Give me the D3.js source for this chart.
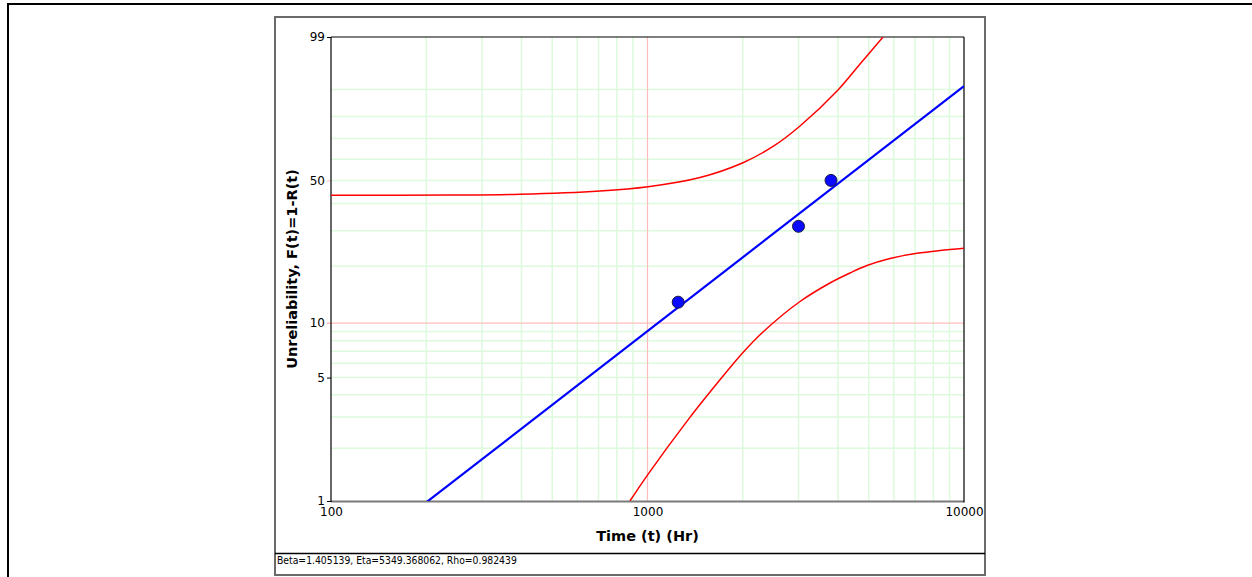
<!DOCTYPE html>
<html>
<head>
<meta charset="utf-8">
<script src="https://cdn.jsdelivr.net/npm/d3@7"></script>
<style>
  html, body { margin: 0; padding: 0; background: #fff; }
  svg { display: block; font-family: "DejaVu Sans", Verdana, sans-serif; }
</style>
</head>
<body>
<svg id="chart" width="1252" height="577"></svg>
<script>
// Weibull fit parameters
const BETA = 1.405139;
const ETA = 5349.368062;
const RHO = 0.982439;

// Failure times (Hr) and their median ranks (%)
const failTimes = [1250, 3000, 3800];
const failRanks = [12.96, 31.48, 50.0];

// Confidence bounds, time (Hr) and unreliability (%)
const upperTimes = [100, 238, 395, 708, 1004, 1465, 2003, 2492, 3033, 3999, 4693, 5548];
const upperPct   = [43.4, 43.5, 43.85, 45.27, 47.16, 51.34, 58.34, 66.2, 75.88, 89.85, 96.02, 99.0];
const lowerTimes = [880, 1001, 1352, 1576, 2003, 2317, 3033, 3772, 4363, 4938, 5838, 7103, 8400, 10000];
const lowerPct   = [1.0, 1.41, 2.94, 4.15, 6.89, 8.94, 13.07, 16.38, 18.46, 20.17, 21.9, 23.25, 24.02, 24.63];

// Axis ticks
const xTicks = [100, 1000, 10000];
const yTicks = [1, 5, 10, 50, 99];
const xGridMinor = [200, 300, 400, 500, 600, 700, 800, 900, 2000, 3000, 4000, 5000, 6000, 7000, 8000, 9000];
const xGridMajor = [1000];
const yGridMinor = [2, 3, 4, 5, 6, 7, 8, 9, 20, 30, 40, 50, 60, 70, 80, 90];
const yGridMajor = [10];

const svg = d3.select("#chart");
const plot = { left: 331, right: 964, top: 37, bottom: 501 };

// Weibull probability transform: ln(-ln(1-F))
const wb = p => Math.log(-Math.log(1 - p / 100));

const x = d3.scaleLog().domain([100, 10000]).range([plot.left, plot.right]);
const yLin = d3.scaleLinear().domain([wb(1), wb(99)]).range([plot.bottom, plot.top]);
const y = p => yLin(wb(p));

// Outer frame
svg.append("rect")
  .attr("x", 8).attr("y", 4).attr("width", 1400).attr("height", 800)
  .attr("fill", "none").attr("stroke", "#000").attr("stroke-width", 2);

// Chart panel
svg.append("rect")
  .attr("x", 275).attr("y", 17).attr("width", 710).attr("height", 558)
  .attr("fill", "#fff").attr("stroke", "#6a6a6a").attr("stroke-width", 2);
svg.append("line")
  .attr("x1", 275).attr("x2", 985).attr("y1", 553.5).attr("y2", 553.5)
  .attr("stroke", "#000").attr("stroke-width", 1.5);

svg.append("text")
  .attr("x", 277).attr("y", 564)
  .attr("font-size", 10.3).attr("fill", "#000")
  .attr("font-family", "'DejaVu Sans Condensed', 'DejaVu Sans', sans-serif")
  .text(`Beta=${BETA.toFixed(6)}, Eta=${ETA.toFixed(6)}, Rho=${RHO.toFixed(6)}`);

// Grid
const grid = svg.append("g");
grid.selectAll(".vmin").data(xGridMinor).join("line")
  .attr("x1", d => x(d)).attr("x2", d => x(d))
  .attr("y1", plot.top).attr("y2", plot.bottom)
  .attr("stroke", "#ddfadd").attr("stroke-width", 1.5);
grid.selectAll(".hmin").data(yGridMinor).join("line")
  .attr("x1", plot.left).attr("x2", plot.right)
  .attr("y1", d => y(d)).attr("y2", d => y(d))
  .attr("stroke", "#ddfadd").attr("stroke-width", 1.5);
grid.selectAll(".vmaj").data(xGridMajor).join("line")
  .attr("x1", d => x(d)).attr("x2", d => x(d))
  .attr("y1", plot.top).attr("y2", plot.bottom)
  .attr("stroke", "#ffbcbc").attr("stroke-width", 1.2);
grid.selectAll(".hmaj").data(yGridMajor).join("line")
  .attr("x1", plot.left - 4).attr("x2", plot.right)
  .attr("y1", d => y(d)).attr("y2", d => y(d))
  .attr("stroke", "#ffbcbc").attr("stroke-width", 1.2);

// Axes
const yAxis = svg.append("g")
  .attr("transform", `translate(${plot.left},0)`)
  .call(d3.axisLeft(yLin)
    .tickValues(yTicks.map(wb))
    .tickFormat((d, i) => yTicks[i])
    .tickSize(4).tickPadding(2));
yAxis.select(".domain").remove();
yAxis.selectAll(".tick line")
  .attr("stroke", (d, i) => (yTicks[i] === 10 || yTicks[i] === 50) ? "#ffbcbc" : "#000");
yAxis.selectAll(".tick text").attr("font-size", 12).attr("fill", "#000")
  .attr("font-family", "DejaVu Sans, Verdana, sans-serif");

const xAxis = svg.append("g")
  .attr("transform", `translate(0,${plot.bottom})`)
  .call(d3.axisBottom(x).tickValues(xTicks).tickFormat(d3.format("d")).tickSize(0).tickPadding(6));
xAxis.select(".domain").remove();
xAxis.selectAll(".tick text").attr("font-size", 12).attr("fill", "#000")
  .attr("font-family", "DejaVu Sans, Verdana, sans-serif");

// Plot frame
svg.append("line").attr("x1", plot.left).attr("x2", plot.right)
  .attr("y1", plot.bottom + 0.5).attr("y2", plot.bottom + 0.5)
  .attr("stroke", "#7a7a7a").attr("stroke-width", 2);
svg.append("line").attr("x1", plot.left).attr("x2", plot.right)
  .attr("y1", plot.top).attr("y2", plot.top)
  .attr("stroke", "#000").attr("stroke-width", 1.2);
svg.append("line").attr("x1", plot.left).attr("x2", plot.left)
  .attr("y1", plot.top).attr("y2", plot.bottom + 1)
  .attr("stroke", "#000").attr("stroke-width", 1.2);
svg.append("line").attr("x1", plot.right).attr("x2", plot.right)
  .attr("y1", plot.top).attr("y2", plot.bottom + 1.5)
  .attr("stroke", "#000").attr("stroke-width", 1.2);

// Clip to plot area
svg.append("clipPath").attr("id", "plotClip")
  .append("rect")
  .attr("x", plot.left).attr("y", plot.top)
  .attr("width", plot.right - plot.left).attr("height", plot.bottom - plot.top);
const body = svg.append("g").attr("clip-path", "url(#plotClip)");

// Confidence bounds
const boundLine = d3.line()
  .x(d => x(d[0])).y(d => y(d[1]))
  .curve(d3.curveCatmullRom.alpha(0.5));
body.append("path")
  .datum(d3.zip(upperTimes, upperPct))
  .attr("d", boundLine)
  .attr("fill", "none").attr("stroke", "#ff0000").attr("stroke-width", 1.5);
body.append("path")
  .datum(d3.zip(lowerTimes, lowerPct))
  .attr("d", boundLine)
  .attr("fill", "none").attr("stroke", "#ff0000").attr("stroke-width", 1.5);

// Fitted Weibull line from BETA and ETA
const fitTimes = [100, 10000];
const fitPct = fitTimes.map(t => 100 * (1 - Math.exp(-Math.pow(t / ETA, BETA))));
body.append("path")
  .datum(d3.zip(fitTimes, fitPct))
  .attr("d", d3.line().x(d => x(d[0])).y(d => y(d[1])))
  .attr("fill", "none").attr("stroke", "#0000ff").attr("stroke-width", 2.2);

// Failure points
svg.append("g").selectAll("circle")
  .data(d3.zip(failTimes, failRanks))
  .join("circle")
  .attr("cx", d => x(d[0])).attr("cy", d => y(d[1]))
  .attr("r", 6)
  .attr("fill", "#0a0aff").attr("stroke", "#1a1a40").attr("stroke-width", 1);

// Axis titles
svg.append("text")
  .attr("x", (plot.left + plot.right) / 2).attr("y", 541)
  .attr("text-anchor", "middle").attr("font-size", 14.5).attr("font-weight", "bold")
  .text("Time (t) (Hr)");
svg.append("text")
  .attr("transform", `translate(297,${(plot.top + plot.bottom) / 2}) rotate(-90)`)
  .attr("text-anchor", "middle").attr("font-size", 14.5).attr("font-weight", "bold")
  .text("Unreliability, F(t)=1-R(t)");
</script>
</body>
</html>
